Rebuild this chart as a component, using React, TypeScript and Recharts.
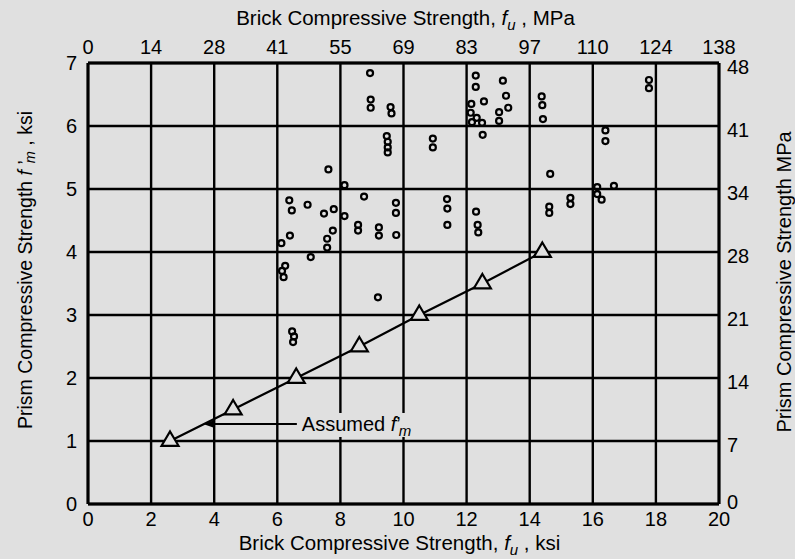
import React from 'react';
import { ScatterChart, Scatter, XAxis, YAxis, CartesianGrid, ReferenceLine, Label } from 'recharts';

// brick strength fu (ksi) vs prism strength f'm (ksi), test results
const testFu = [
  6.13, 6.15, 6.2, 6.25, 6.38, 6.46, 6.4, 6.47, 6.53, 6.5, 6.96, 7.06,
  7.48, 7.62, 7.58, 7.58, 7.76, 7.79, 8.13, 8.13,
  8.56, 8.56, 8.75, 8.94, 8.96, 8.96, 9.19, 9.22, 9.22, 9.47, 9.5, 9.5, 9.5, 9.59, 9.62, 9.76, 9.76, 9.77,
  10.93, 10.93, 11.38, 11.39, 11.39,
  12.29, 12.29, 12.15, 12.13, 12.32, 12.17, 12.49, 12.55, 12.51, 13.15, 13.25, 13.32, 13.03, 13.03, 12.3, 12.35, 12.37,
  14.38, 14.4, 14.42, 14.65, 14.62, 14.62,
  15.29, 15.29,
  16.4, 16.4, 16.14, 16.14, 16.28, 16.67,
  17.78, 17.78,
];
const testFm = [
  4.14, 3.7, 3.6, 3.78, 4.82, 4.66, 4.26, 2.74, 2.66, 2.57, 4.75, 3.92,
  4.61, 5.31, 4.21, 4.07, 4.34, 4.68, 5.06, 4.57,
  4.43, 4.34, 4.88, 6.84, 6.42, 6.29, 3.28, 4.39, 4.26, 5.84, 5.75, 5.66, 5.58, 6.3, 6.2, 4.78, 4.62, 4.27,
  5.8, 5.66, 4.84, 4.69, 4.43,
  6.8, 6.62, 6.35, 6.21, 6.13, 6.06, 6.05, 6.39, 5.86, 6.72, 6.48, 6.29, 6.22, 6.08, 4.64, 4.43, 4.31,
  6.47, 6.33, 6.11, 5.24, 4.72, 4.62,
  4.86, 4.76,
  5.93, 5.76, 5.03, 4.92, 4.83, 5.05,
  6.73, 6.6,
];

// assumed f'm line
const assumedFu = [2.6, 4.6, 6.6, 8.6, 10.5, 12.5, 14.4];
const assumedFm = [1, 1.5, 2, 2.5, 3, 3.5, 4];

const ksiXTicks = [0, 2, 4, 6, 8, 10, 12, 14, 16, 18, 20];
const mpaXLabels = ['0', '14', '28', '41', '55', '69', '83', '97', '110', '124', '138'];
const ksiYTicks = [0, 1, 2, 3, 4, 5, 6, 7];
const mpaYLabels = ['0', '7', '14', '21', '28', '34', '41', '48'];

const testData = testFu.map((x, i) => ({ x, y: testFm[i] }));
const assumedData = assumedFu.map((x, i) => ({ x, y: assumedFm[i] }));

const FONT = '"Liberation Sans", Arial, sans-serif';
const BG = '#e0e0e0';
const tickStyle = { fontSize: 20, fill: '#000', fontFamily: FONT };
const axisLine = { stroke: '#000', strokeWidth: 3 };

const Ring = (props: any) => (
  <circle cx={props.cx} cy={props.cy} r={3} fill="none" stroke="#000" strokeWidth={2.2} />
);

const Tri = (props: any) => {
  const { cx, cy } = props;
  return (
    <path
      d={`M${cx},${cy - 9.5} L${cx + 8.5},${cy + 4.8} L${cx - 8.5},${cy + 4.8} Z`}
      fill={BG}
      stroke="#000"
      strokeWidth={2.2}
      strokeLinejoin="miter"
    />
  );
};

const Nothing = () => <g />;

// right MPa ticks sit a little low, except the bottom one
const RightTick = (props: any) => {
  const { x, y, payload } = props;
  const shift = payload.value === 0 ? -2 : 4;
  return (
    <text x={x + 6} y={y + shift} dy="0.355em" textAnchor="start" fontSize={20} fontFamily={FONT} fill="#000">
      {mpaYLabels[ksiYTicks.indexOf(payload.value)]}
    </text>
  );
};

const Arrow = (props: any) => {
  const { x1, y1, x2, y2 } = props;
  return (
    <g>
      <rect x={x2 + 2} y={y1 - 11} width={116} height={24} fill={BG} />
      <line x1={x1 + 6} y1={y1} x2={x2} y2={y2} stroke="#000" strokeWidth={2} />
      <path d={`M${x1},${y1} L${x1 + 10},${y1 - 3.5} L${x1 + 10},${y1 + 3.5} Z`} fill="#000" />
      <text x={x2 + 5} y={y1 + 7} fontSize={20} fontFamily={FONT} fill="#000">
        Assumed <tspan fontStyle="italic">f</tspan>
        <tspan>’</tspan>
        <tspan fontStyle="italic" fontSize={15} dy={5} dx={-2}>m</tspan>
      </text>
    </g>
  );
};

const App: React.FC = () => {
  return (
    <div style={{ position: 'absolute', left: 0, top: 0, width: 795, height: 559, background: BG }}>
      <ScatterChart width={795} height={559} margin={{ top: 0, right: 0, bottom: 0, left: 0 }}>
        <CartesianGrid
          xAxisId="ksi"
          yAxisId="ksi"
          stroke="#000"
          strokeWidth={2.4}
          horizontalValues={ksiYTicks}
          verticalValues={ksiXTicks}
        />
        <XAxis
          xAxisId="ksi"
          dataKey="x"
          type="number"
          domain={[0, 20]}
          ticks={ksiXTicks}
          height={55}
          tick={tickStyle}
          tickLine={false}
          tickSize={6}
          axisLine={axisLine}
          interval={0}
        >
          <Label
            content={(p: any) => (
              <text x={p.viewBox.x + p.viewBox.width / 2 - 4} y={p.viewBox.y + 46} textAnchor="middle" fontSize={20.5} fontFamily={FONT} fill="#000">
                Brick Compressive Strength, <tspan fontStyle="italic">f</tspan>
                <tspan fontStyle="italic" fontSize={15} dy={5}>u</tspan>
                <tspan dy={-5}> , ksi</tspan>
              </text>
            )}
          />
        </XAxis>
        <XAxis
          xAxisId="mpa"
          orientation="top"
          dataKey="x"
          type="number"
          domain={[0, 20]}
          ticks={ksiXTicks}
          tickFormatter={(v: number) => mpaXLabels[ksiXTicks.indexOf(v)]}
          height={63}
          tick={tickStyle}
          tickLine={false}
          tickSize={6}
          tickMargin={3}
          axisLine={axisLine}
          interval={0}
        >
          <Label
            content={(p: any) => (
              <text x={p.viewBox.x + p.viewBox.width / 2 + 2} y={25} textAnchor="middle" fontSize={20.5} fontFamily={FONT} fill="#000">
                Brick Compressive Strength, <tspan fontStyle="italic">f</tspan>
                <tspan fontStyle="italic" fontSize={15} dy={5}>u</tspan>
                <tspan dy={-5}> , MPa</tspan>
              </text>
            )}
          />
        </XAxis>
        <YAxis
          yAxisId="ksi"
          dataKey="y"
          type="number"
          domain={[0, 7]}
          ticks={ksiYTicks}
          width={88}
          tick={tickStyle}
          tickLine={false}
          tickSize={6}
          tickMargin={5}
          axisLine={axisLine}
          interval={0}
        >
          <Label
            content={() => (
              <text
                x={25}
                y={270}
                transform="rotate(-90 25 270)"
                textAnchor="middle"
                dominantBaseline="central"
                fontSize={19.5}
                fontFamily={FONT}
                fill="#000"
              >
                Prism Compressive Strength  <tspan fontStyle="italic">f</tspan>
                <tspan> ’</tspan>
                <tspan fontStyle="italic" fontSize={14.5} dy={5} dx={-3}>m</tspan>
                <tspan dy={-5}> , ksi</tspan>
              </text>
            )}
          />
        </YAxis>
        <YAxis
          yAxisId="mpa"
          orientation="right"
          dataKey="y"
          type="number"
          domain={[0, 7]}
          ticks={ksiYTicks}
          width={76}
          tick={<RightTick />}
          tickLine={false}
          tickSize={0}
          axisLine={axisLine}
          interval={0}
        >
          <Label
            content={() => (
              <text
                x={784}
                y={282}
                transform="rotate(-90 784 282)"
                textAnchor="middle"
                dominantBaseline="central"
                fontSize={20}
                fontFamily={FONT}
                fill="#000"
              >
                Prism Compressive Strength MPa
              </text>
            )}
          />
        </YAxis>
        <ReferenceLine
          xAxisId="ksi"
          yAxisId="ksi"
          segment={[{ x: 3.65, y: 1.27 }, { x: 6.62, y: 1.27 }]}
          shape={Arrow}
          ifOverflow="visible"
        />
        <Scatter
          xAxisId="mpa"
          yAxisId="mpa"
          data={assumedData}
          shape={Nothing}
          isAnimationActive={false}
        />
        <Scatter
          xAxisId="ksi"
          yAxisId="ksi"
          data={testData}
          shape={Ring}
          isAnimationActive={false}
        />
        <Scatter
          xAxisId="ksi"
          yAxisId="ksi"
          data={assumedData}
          shape={Tri}
          line={{ stroke: '#000', strokeWidth: 2.2 }}
          isAnimationActive={false}
        />
      </ScatterChart>
    </div>
  );
};

export default App;
